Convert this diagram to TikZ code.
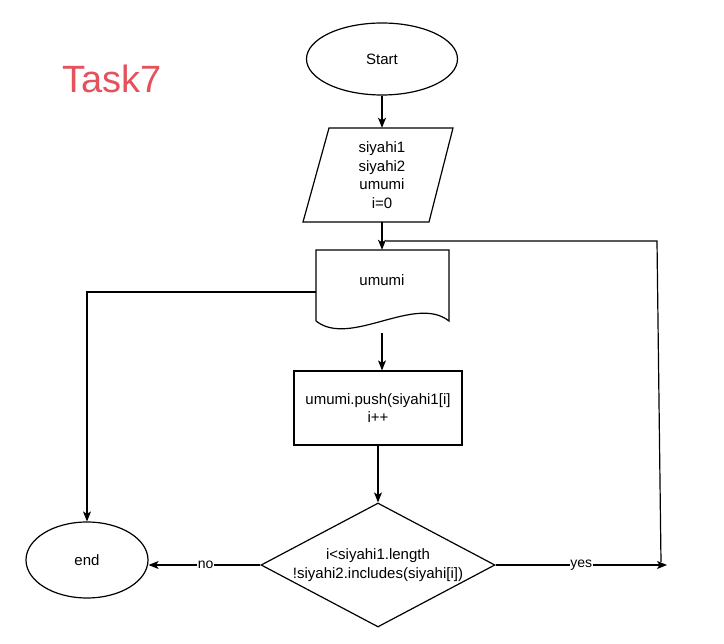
\documentclass[tikz,border=0pt]{standalone}
\usepackage{fontspec}
\setmainfont{Liberation Sans}
\usetikzlibrary{shapes.geometric,arrows.meta,calc}
\definecolor{taskred}{HTML}{E4525C}
\begin{document}
\begin{tikzpicture}[x=1pt,y=-1pt,
  every node/.style={font=\fontsize{15}{18.5}\selectfont, align=center},
  ln/.style={line width=1.2pt, draw=black},
  arr/.style={ln, -{Stealth[length=10pt,width=8pt,inset=2.5pt]}},
  term/.style={ellipse, ln, inner sep=0pt},
  procbox/.style={rectangle, ln, inner sep=0pt},
  edgelbl/.style={fill=white, inner sep=0.5pt, font=\fontsize{14}{16}\selectfont}
]
\useasboundingbox (0,0) rectangle (724,644);
\fill[white] (0,0) rectangle (724,644);

% title
\node[font=\fontsize{38}{40}\selectfont, text=taskred, anchor=base west, inner sep=0pt] (title) at (62,93) {Task7};

% start
\node[term, minimum width=151pt, minimum height=72pt] (start) at (382,59) {Start};

% input parallelogram
\node[minimum width=124pt, minimum height=94pt, inner sep=0pt] (inp) at (382,175) {siyahi1\\siyahi2\\umumi\\i=0};
\draw[ln, line join=miter] (329,128) -- (453,128) -- (429,222) -- (303,222) -- cycle;

% document
\node[minimum width=133pt, minimum height=70pt, inner sep=0pt] (doc) at (382,285) {};
\node[inner sep=0pt] (doctext) at (382,280) {umumi};
\draw[ln, line join=miter] (316,321) -- (316,250) -- (449,250) -- (449,321)
   .. controls (415,294) and (350,348) .. (316,321);
\coordinate (docbot) at (382,333);
\coordinate (docleft) at (316,292);
\coordinate (leftcorner) at (87,292);

% process
\node[procbox, minimum width=168pt, minimum height=74pt] (proc) at (378,408) {umumi.push(siyahi1[i]\\i++};

% decision
\node[diamond, ln, aspect=1.89, inner sep=0pt, minimum width=234pt, minimum height=124pt] (dec) at (378,565) {i<siyahi1.length\\!siyahi2.includes(siyahi[i])};

% end
\node[term, minimum width=122pt, minimum height=76pt] (endn) at (87,560) {end};

% loop coordinates
\coordinate (yesend) at (667,565);
\coordinate (ybot) at (661,562);
\coordinate (ytop) at (657,241);
\coordinate (yjoin) at (386,241);

% connectors
\draw[arr] (start.south) -- (inp.north);
\draw[arr] (inp.south) -- (doc.north);
\draw[arr] (docbot) -- (docbot |- proc.north);
\draw[arr] (proc.south) -- (dec.north);
\draw[arr] (docleft) -- (leftcorner) -- (endn.north);
\draw[arr] (dec.west) -- node[edgelbl, pos=0.49] {no} (dec.west -| endn.east);
\draw[arr] (dec.east) -- node[edgelbl, pos=0.5] {yes} (yesend);
\draw[ln] (ybot) -- (ytop) -- (yjoin);
\end{tikzpicture}
\end{document}
